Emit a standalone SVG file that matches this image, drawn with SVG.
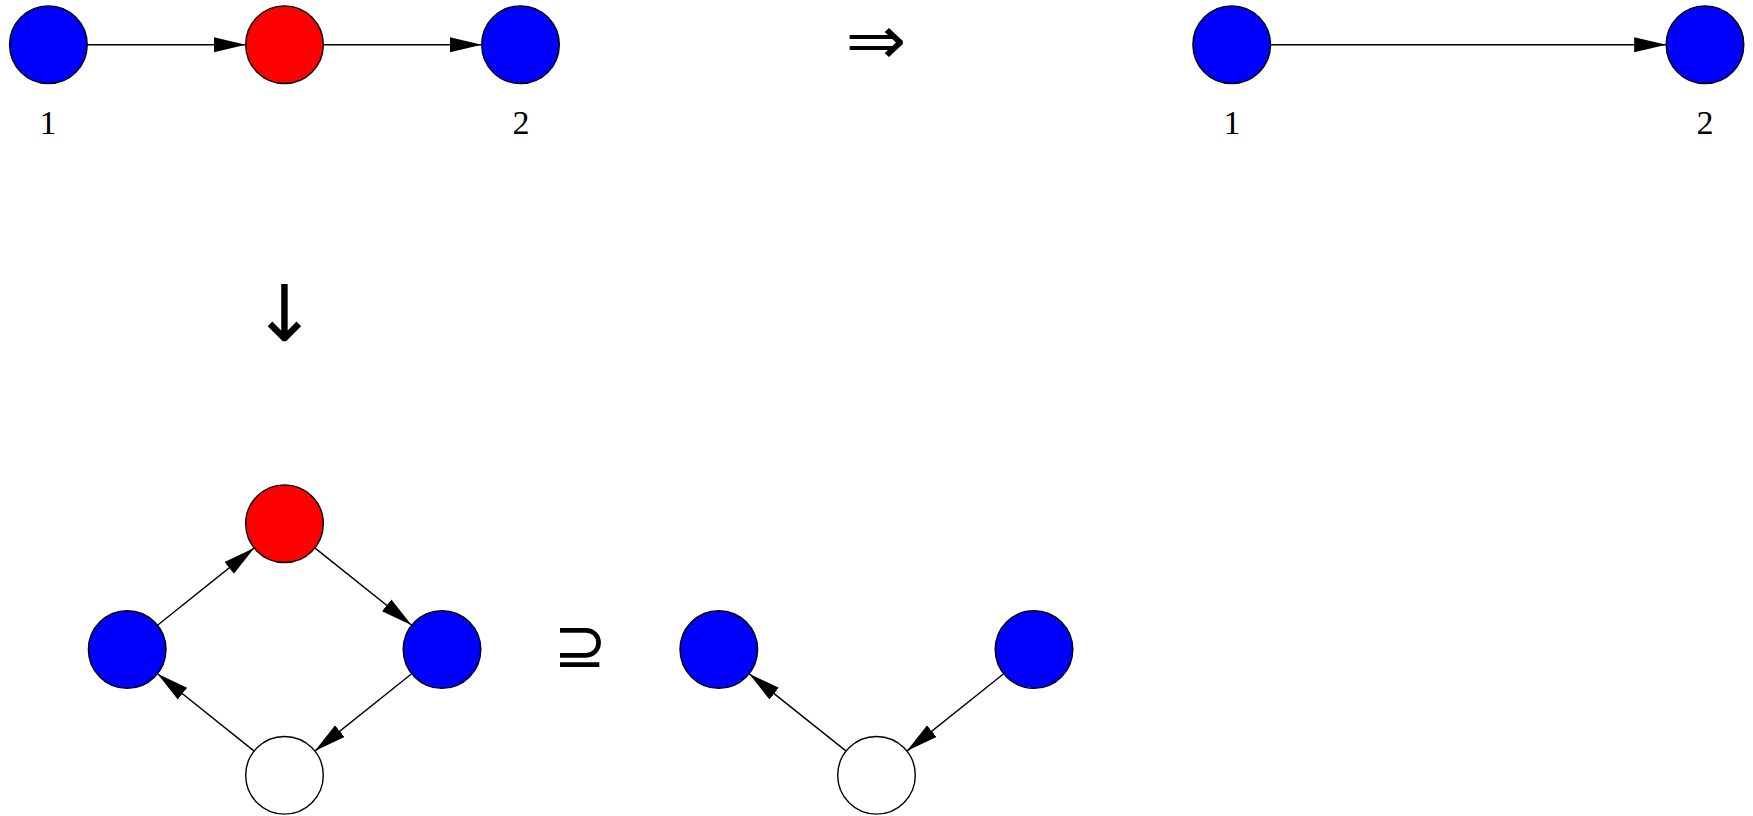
<svg xmlns="http://www.w3.org/2000/svg" width="1753" height="816" viewBox="0 0 1753 816">
<style>
.n{stroke:#000;stroke-width:1.4}
.b{fill:#0000ff}
.r{fill:#ff0000}
.w{fill:#ffffff}
.e{stroke:#000;stroke-width:1.4;fill:none;marker-end:url(#ah)}
.lbl{font-family:"Liberation Serif",serif;font-size:34px;text-anchor:middle;fill:#000}
.sym{font-family:"DejaVu Sans",sans-serif;text-anchor:middle;fill:#000}
</style>
<defs>
<marker id="ah" markerUnits="userSpaceOnUse" markerWidth="34" markerHeight="18" refX="32" refY="8" orient="auto" viewBox="0 0 34 16">
<path d="M0,0.5 L32,8 L0,15.5 z" fill="#000"/>
</marker>
</defs>
<rect width="1753" height="816" fill="#fff"/>
<g id="connectors">
<line class="e" x1="87.2" y1="44.7" x2="245.7" y2="44.7"/>
<line class="e" x1="323.3" y1="44.7" x2="481.7" y2="44.7"/>
<line class="e" x1="1270.5" y1="44.7" x2="1666.2" y2="44.7"/>
<line class="e" x1="157.5" y1="625.3" x2="254.2" y2="547.9"/>
<line class="e" x1="314.8" y1="547.9" x2="411.7" y2="625.3"/>
<line class="e" x1="411.7" y1="673.7" x2="314.8" y2="751.1"/>
<line class="e" x1="254.2" y1="751.1" x2="157.5" y2="673.7"/>
<line class="e" x1="846.2" y1="751.1" x2="749.1" y2="673.7"/>
<line class="e" x1="1003.7" y1="673.7" x2="906.8" y2="751.1"/>
</g>
<g id="n1"><circle class="n b" cx="48.4" cy="44.7" r="38.8"/><text class="lbl" x="48" y="134">1</text></g>
<g id="n2"><circle class="n r" cx="284.5" cy="44.7" r="38.8"/></g>
<g id="n3"><circle class="n b" cx="520.5" cy="44.7" r="38.8"/><text class="lbl" x="521" y="134">2</text></g>
<g id="n4"><circle class="n b" cx="1231.7" cy="44.7" r="38.8"/><text class="lbl" x="1232" y="134">1</text></g>
<g id="n5"><circle class="n b" cx="1705" cy="44.7" r="38.8"/><text class="lbl" x="1705" y="134">2</text></g>
<g id="d1"><circle class="n r" cx="284.5" cy="523.7" r="38.8"/></g>
<g id="d2"><circle class="n b" cx="127.2" cy="649.5" r="38.8"/></g>
<g id="d3"><circle class="n b" cx="442" cy="649.5" r="38.8"/></g>
<g id="d4"><circle class="n w" cx="284.5" cy="775.3" r="38.8"/></g>
<g id="s1"><circle class="n b" cx="718.8" cy="649.5" r="38.8"/></g>
<g id="s2"><circle class="n b" cx="1034" cy="649.5" r="38.8"/></g>
<g id="s3"><circle class="n w" cx="876.5" cy="775.3" r="38.8"/></g>
<g id="symbols">
<text class="sym" x="876" y="64" font-size="68" transform="translate(876,0) scale(1.07,1) translate(-876,0)">⇒</text>
<text class="sym" x="284.5" y="341" font-size="78">↓</text>
<text class="sym" x="580" y="667" font-size="64">⊇</text>
</g>
</svg>
